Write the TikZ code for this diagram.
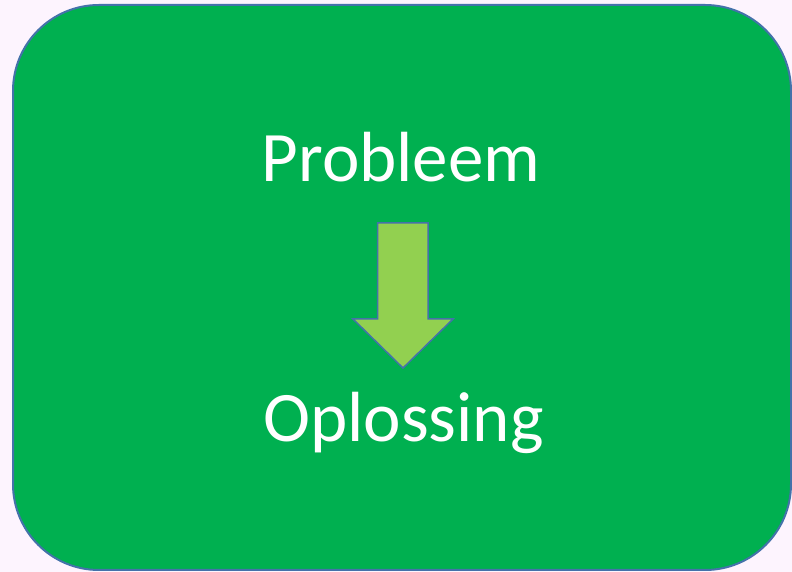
\documentclass[tikz,border=0pt]{standalone}
\usepackage{fontspec}
\setmainfont{Carlito}
\definecolor{achtergrond}{RGB}{253,244,254}
\definecolor{kadergroen}{RGB}{0,176,80}
\definecolor{randblauw}{RGB}{68,114,170}
\definecolor{pijlgroen}{RGB}{146,208,80}
\tikzset{
  woord/.style={text=white, font=\fontsize{71}{85}\selectfont, anchor=base, inner sep=0pt},
  kader/.style={fill=kadergroen, draw=randblauw, line width=2pt, rounded corners=86pt},
  blokpijl/.style={fill=pijlgroen, draw=randblauw, line width=1.5pt, line join=miter}
}
\begin{document}
\begin{tikzpicture}[x=1pt,y=1pt]
% achtergrond en kader
\fill[achtergrond] (0,0) rectangle (792,572);
\useasboundingbox (0,0) rectangle (792,572);
\draw[kader] (13,2) rectangle (791,567);
% teksten
\node[woord] (probleem) at (401,390) {Probleem};
\node[woord] (oplossing) at (403.5,130) {Oplossing};
% pijl van probleem naar oplossing
\draw[blokpijl] (377.5,349) -- (428,349) -- (428,253) -- (453,253)
  -- (403,204) -- (353,253) -- (377.5,253) -- cycle;
\end{tikzpicture}
\end{document}
